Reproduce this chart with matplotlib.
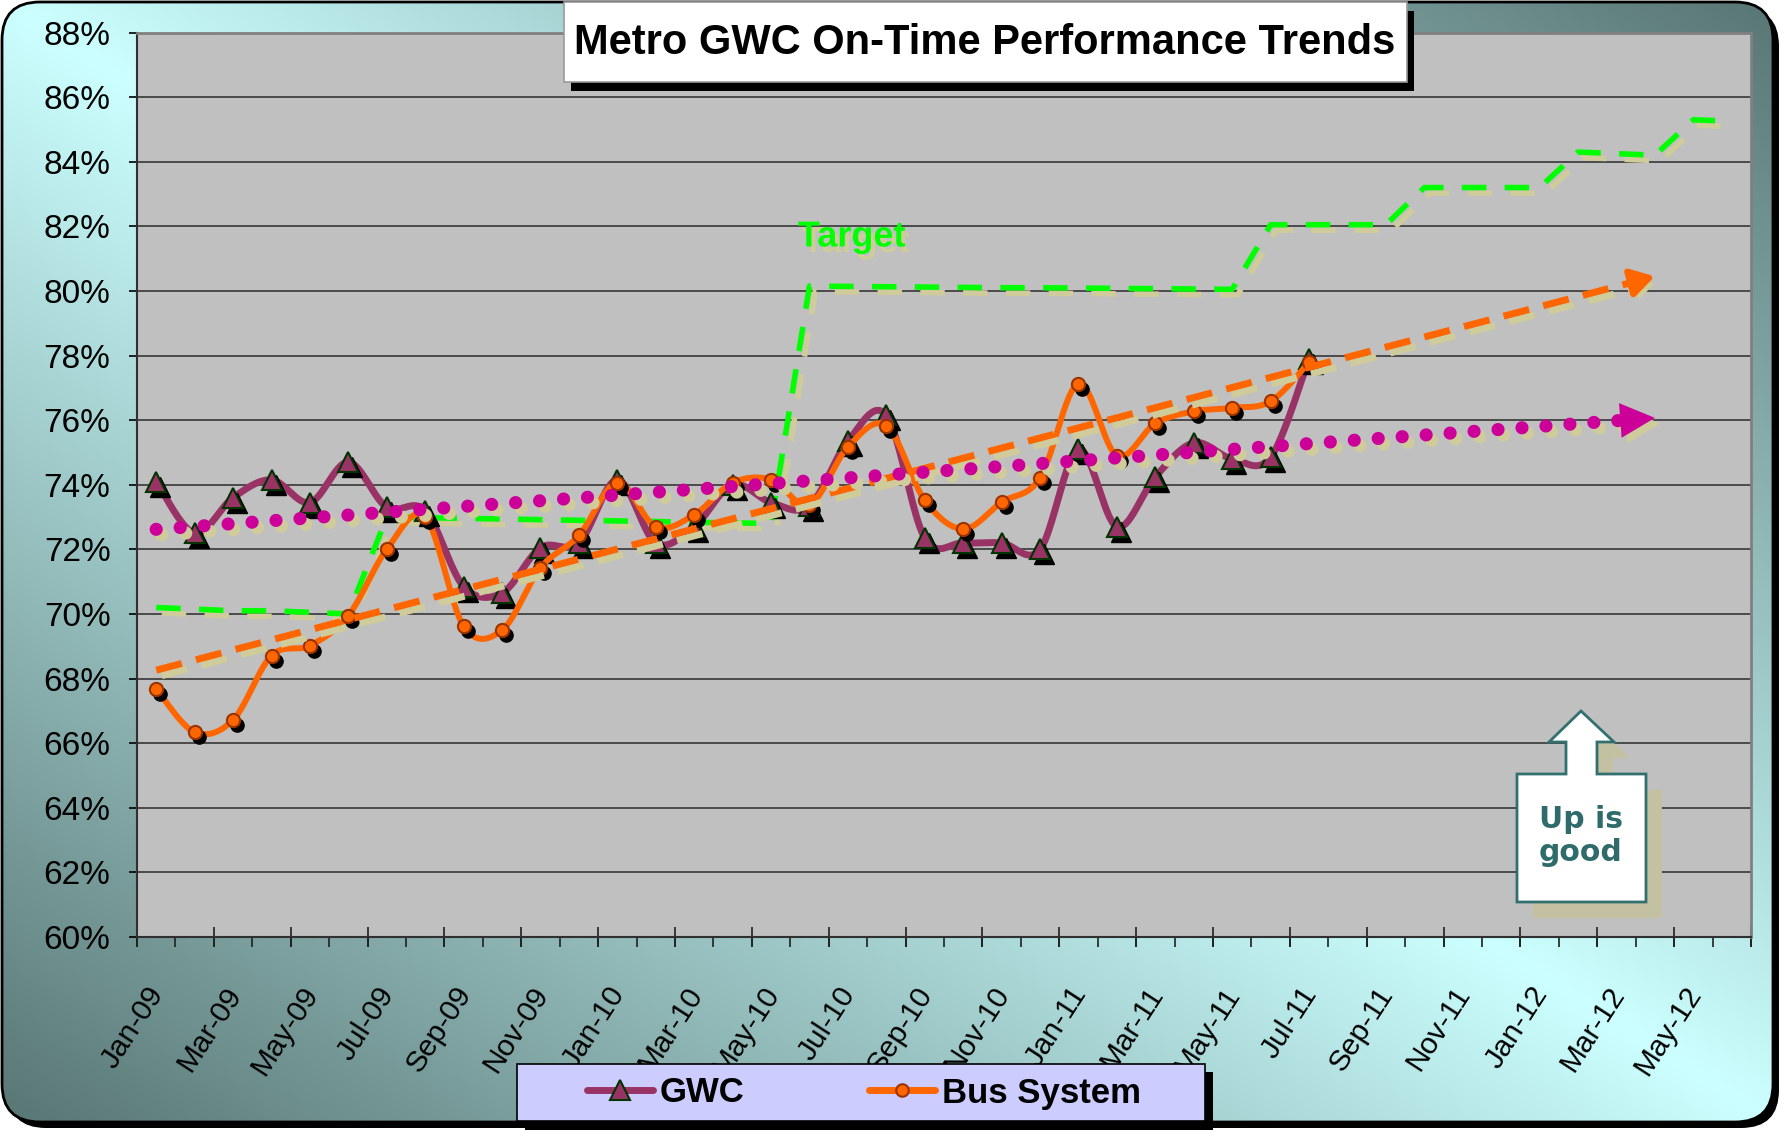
import numpy as np
import pandas as pd
import matplotlib
matplotlib.use("Agg")
import matplotlib.pyplot as plt
from matplotlib import patheffects as pe
from matplotlib.patches import FancyBboxPatch, Rectangle, Polygon
from matplotlib.lines import Line2D
from matplotlib.transforms import ScaledTranslation

plt.rcParams['font.family'] = ['Liberation Sans', 'DejaVu Sans']

# months Jan-09 .. Jun-12
months = pd.date_range('2009-01-01', periods=42, freq='MS').strftime('%b-%y').tolist()

gwc = [74.1, 72.5, 73.6, 74.15, 73.45, 74.7, 73.3, 73.2, 70.85, 70.65, 72.05,
       72.2, 74.15, 72.2, 72.7, 74.0, 73.45, 73.35, 75.35, 76.15, 72.35, 72.2,
       72.2, 72.0, 75.1, 72.7, 74.25, 75.3, 74.8, 74.85, 77.9]
bus = [67.68, 66.34, 66.72, 68.71, 69.02, 69.95, 72.0, 73.0, 69.62, 69.5, 71.43,
       72.43, 74.06, 72.7, 73.07, 74.06, 74.16, 73.38, 75.17, 75.83, 73.52, 72.63,
       73.46, 74.21, 77.13, 74.9, 75.9, 76.27, 76.38, 76.58, 77.79]
target = [70.2, 70.15, 70.1, 70.1, 70.05, 70.0,
          73.0, 72.98, 72.96, 72.94, 72.92, 72.9, 72.88, 72.86, 72.84, 72.82, 72.8,
          80.15, 80.14, 80.13, 80.12, 80.11, 80.1, 80.1, 80.09, 80.08, 80.07, 80.06, 80.05,
          82.05, 82.05, 82.05, 82.05,
          83.2, 83.2, 83.2, 83.2,
          84.3, 84.25, 84.2,
          85.3, 85.25]
# trend lines: values at Jan-09 and Apr-12 (arrow tips)
trend_months = ['Jan-09', 'Apr-12']
gwc_trend = [72.62, 76.07]
bus_trend = [68.26, 80.45]

purple, orange, green, magenta = '#993366', '#FF6600', '#00FF00', '#CC0099'
khaki = '#CFCB9B'


def smooth(vals, n=24):
    # excel-like smoothed line (bezier through the points)
    p = np.column_stack([np.arange(len(vals)), vals]).astype(float)
    pp = np.vstack([p[0], p, p[-1]])
    t = np.linspace(0, 1, n)[:, None]
    segs = []
    for i in range(len(p) - 1):
        p0, p1, p2, p3 = pp[i], pp[i + 1], pp[i + 2], pp[i + 3]
        c1 = p1 + (p2 - p0) / 6
        c2 = p2 - (p3 - p1) / 6
        segs.append((1 - t) ** 3 * p1 + 3 * (1 - t) ** 2 * t * c1
                    + 3 * (1 - t) * t ** 2 * c2 + t ** 3 * p2)
    return np.vstack(segs)


W, H = 1781, 1130
fig = plt.figure(figsize=(W / 100, H / 100), dpi=100)
fig.patch.set_facecolor('white')

# background frame with gradient
bg = fig.add_axes([0, 0, 1, 1], zorder=0)
bg.axis('off')
bg.add_patch(FancyBboxPatch((8, 8), W - 10, H - 10, boxstyle='round,pad=0,rounding_size=38',
                            fc='black', ec='none', zorder=0))
gx = np.linspace(0, 1, 356)
gy = np.linspace(0, 1, 226)
tt = np.abs(gx[None, :] - gy[:, None])[..., None]
light = np.array([204, 255, 255]) / 255
dark = np.array([88, 118, 116]) / 255
img = light * (1 - tt) + dark * tt
im = bg.imshow(img, extent=(2, W - 8, H - 8, 2), interpolation='bilinear', aspect='auto', zorder=1)
frame = FancyBboxPatch((2, 2), W - 10, H - 10, boxstyle='round,pad=0,rounding_size=38',
                       fc='none', ec='black', lw=2, zorder=2)
bg.add_patch(frame)
im.set_clip_path(frame)
bg.set_xlim(0, W)
bg.set_ylim(H, 0)

# main plot
ax = fig.add_axes([137 / W, (H - 937) / H, (1751 - 137) / W, (937 - 32.5) / H], zorder=1)
ax.set_facecolor('#C0C0C0')
x = np.arange(len(months))

shade = [pe.SimpleLineShadow(offset=(4, -4), shadow_color=khaki, alpha=1), pe.Normal()]

tl, = ax.plot(x, target, color=green, lw=4, zorder=3, solid_capstyle='butt')
tl.set_dashes((4.4, 3.3))
tl.set_path_effects(shade)

g = smooth(gwc)
ax.plot(g[:, 0], g[:, 1], color=purple, lw=5, zorder=4, solid_capstyle='round')
b = smooth(bus)
ax.plot(b[:, 0], b[:, 1], color=orange, lw=4.3, zorder=5, solid_capstyle='round')

msh = ax.transData + ScaledTranslation(0.04, -0.05, fig.dpi_scale_trans)
xg = np.arange(len(gwc))
xb = np.arange(len(bus))
ax.plot(xg, gwc, ls='none', marker='^', ms=14, color='black', transform=msh, zorder=4.5)
ax.plot(xg, gwc, ls='none', marker='^', ms=14, mfc=purple, mec='#003300', mew=1.5, zorder=4.6)
ax.plot(xb, bus, ls='none', marker='o', ms=9.5, color='black', transform=msh, zorder=5.5)
ax.plot(xb, bus, ls='none', marker='o', ms=9.5, mfc=orange, mec='#993300', mew=1.5, zorder=5.6)

# trend lines
tx = [months.index(m) for m in trend_months]
ot, = ax.plot([tx[0], tx[1] - 0.3], [bus_trend[0], bus_trend[0] + (bus_trend[1] - bus_trend[0]) * (tx[1] - 0.3) / tx[1]],
              color=orange, lw=5, zorder=6, solid_capstyle='butt')
ot.set_dashes((3.8, 2.1))
ot.set_path_effects(shade)
mt, = ax.plot([tx[0], tx[1] - 0.6], [gwc_trend[0], gwc_trend[0] + (gwc_trend[1] - gwc_trend[0]) * (tx[1] - 0.6) / tx[1]],
              color=magenta, lw=9.5, zorder=7, dash_capstyle='round')
mt.set_dashes((0.001, 1.82))
mt.set_path_effects(shade)

ashade = [pe.SimplePatchShadow(offset=(4, -4), shadow_rgbFace=khaki, alpha=1), pe.Normal()]
bsl = (bus_trend[1] - bus_trend[0]) / tx[1]
gsl = (gwc_trend[1] - gwc_trend[0]) / tx[1]
a1 = ax.annotate('', xy=(tx[1], bus_trend[1]), xytext=(tx[1] - 0.6, bus_trend[1] - 0.6 * bsl),
                 arrowprops=dict(arrowstyle='-|>,head_length=1.0,head_width=0.6', color=orange,
                                 lw=4.5, mutation_scale=14, shrinkA=0, shrinkB=0), zorder=6)
a1.arrow_patch.set_path_effects(ashade)
a2 = ax.annotate('', xy=(tx[1], gwc_trend[1]), xytext=(tx[1] - 1.0, gwc_trend[1] - 1.0 * gsl),
                 arrowprops=dict(arrowstyle='-|>,head_length=1.0,head_width=0.5', color=magenta,
                                 lw=0, mutation_scale=25, shrinkA=0, shrinkB=0), zorder=7)
a2.arrow_patch.set_path_effects(ashade)

ax.text(18.1, 81.67, 'Target', color=green, fontsize=26, fontweight='bold', ha='center', va='center',
        zorder=8, path_effects=[pe.SimplePatchShadow(offset=(3, -4), shadow_rgbFace=khaki, alpha=1), pe.Normal()])

# axes styling
ax.set_xlim(-0.5, 41.5)
ax.set_ylim(60, 88)
ax.set_yticks(np.arange(60, 89, 2))
ax.set_yticklabels([f'{v}%' for v in range(60, 89, 2)], fontsize=24)
ax.tick_params(axis='y', direction='out', length=6, width=1.2, pad=13, colors='black')
ax.grid(axis='y', color='#2a2a2a', lw=1.1, zorder=1)
ax.set_axisbelow(True)

ax.set_xticks(x[::2])
ax.set_xticklabels(months[::2], fontsize=21.5, rotation=57, rotation_mode='anchor', ha='right', va='top')
ax.tick_params(axis='x', which='major', length=0, pad=32)
ax.set_xticks(np.arange(-0.5, 42, 1), minor=True)
ax.tick_params(axis='x', which='minor', direction='out', length=7, width=1.2, color='#202020')
secx = ax.secondary_xaxis('bottom')
secx.set_xticks(np.arange(-0.5, 42, 2))
secx.tick_params(direction='inout', length=14, width=1.2, color='#202020', labelbottom=False)
secx.spines['bottom'].set_visible(False)
off = ScaledTranslation(-0.1, 0, fig.dpi_scale_trans)
for lab in ax.get_xticklabels():
    lab.set_transform(lab.get_transform() + off)

for s in ['left', 'bottom']:
    ax.spines[s].set_color('#303030')
    ax.spines[s].set_linewidth(1.5)
for s in ['top', 'right']:
    ax.spines[s].set_color('#808080')
    ax.spines[s].set_linewidth(2)

# overlay: title, legend, callout (pixel coords)
top = fig.add_axes([0, 0, 1, 1], zorder=2)
top.set_xlim(0, W)
top.set_ylim(H, 0)
top.axis('off')
top.patch.set_alpha(0)

top.add_patch(Rectangle((571, 11), 843, 80, fc='black', ec='none', zorder=1))
top.add_patch(Rectangle((564, 2), 843, 80, fc='white', ec='#9a9a9a', lw=1.2, zorder=2))
top.text(985, 43, 'Metro GWC On-Time Performance Trends', fontsize=30, fontweight='bold',
         ha='center', va='center', zorder=3)

top.add_patch(Rectangle((525, 1072), 688, 58, fc='black', ec='none', zorder=1))
top.add_patch(Rectangle((517, 1064), 688, 57, fc='#CCCCFF', ec='black', lw=1.2, zorder=2))
handles = [Line2D([], [], color=purple, lw=5, marker='^', ms=14, mfc=purple, mec='#003300', mew=1.5,
                  solid_capstyle='round'),
           Line2D([], [], color=orange, lw=5, marker='o', ms=9, mfc=orange, mec='#993300', mew=1.5,
                  solid_capstyle='round')]
leg = top.legend(handles, ['GWC', 'Bus System'], loc='center', bbox_to_anchor=(864, 1093),
                 bbox_transform=top.transData, ncol=2, frameon=False, handlelength=1.9,
                 handletextpad=0.2, columnspacing=3.6, prop={'size': 25, 'weight': 'bold'})
leg.set_zorder(3)

up_shape = [(1581, 711), (1614, 742), (1597, 742), (1597, 774), (1646, 774), (1646, 902),
            (1517, 902), (1517, 774), (1566, 774), (1566, 742), (1549, 742)]
top.add_patch(Polygon([(px + 16, py + 16) for px, py in up_shape], closed=True, fc='#C4C1A3', ec='none', zorder=1))
top.add_patch(Polygon(up_shape, closed=True, fc='white', ec='#31706E', lw=2, zorder=2))
top.text(1581, 836, 'Up is\ngood', color='#2F6B6B', fontsize=21.5, fontweight='bold', family='DejaVu Sans',
         ha='center', va='center', linespacing=1.2, zorder=3)

fig.savefig('out.png', dpi=100)
